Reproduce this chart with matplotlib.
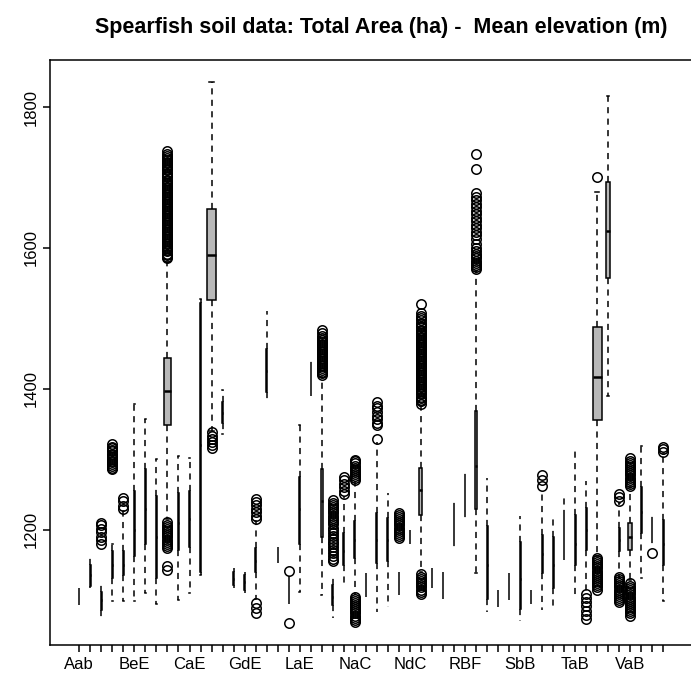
import numpy as np
import matplotlib
matplotlib.use("Agg")
import matplotlib.pyplot as plt

plt.rcParams["font.family"] = ["Liberation Sans", "DejaVu Sans"]

# Soil map units (alphabetical), one box per unit
soil_types = [
    "Aab", "Ba", "Bb", "BcB", "BcC", "BeE", "BkD", "BkE", "BoD", "BoE",
    "CaE", "CcE", "CoD", "CoE", "Cr", "GdE", "GeE", "Gf", "GgE", "Gh",
    "LaE", "LcE", "Ma", "Mb", "McC", "NaC", "NaD", "NbC", "NcC", "NcD",
    "NdC", "NdE", "Pe", "Pf", "Ra", "RBF", "RcE", "Rd", "Rf", "Rg",
    "SbB", "SbC", "Sc", "SdC", "SeE", "TaB", "TbD", "TcE", "TdE", "Ut",
    "VaB", "VcE", "Wa", "Zn",
]

# Five-number summaries of mean elevation (m) per soil unit
whisker_low = [1093, 1117, 1071, 1098, 1098, 1098, 1110, 1095, 1215, 1100,
               1110, 1136, 1340, 1336, 1117, 1110, 1102, 1382, 1152, 1095,
               1112, 1390, 1107, 1074, 1119, 1107, 1105, 1083, 1090, 1107,
               1179, 1140, 1117, 1102, 1171, 1212, 1138, 1083, 1090, 1100,
               1071, 1095, 1086, 1086, 1157, 1105, 1112, 1163, 1390, 1131,
               1128, 1131, 1176, 1098]
lower_hinge = [1102, 1120, 1086, 1131, 1136, 1162, 1179, 1131, 1348, 1171,
               1176, 1140, 1526, 1352, 1122, 1115, 1140, 1395, 1155, 1102,
               1179, 1398, 1190, 1093, 1150, 1160, 1110, 1152, 1155, 1112,
               1183, 1221, 1122, 1110, 1185, 1226, 1229, 1102, 1095, 1105,
               1088, 1098, 1138, 1117, 1160, 1150, 1171, 1355, 1557, 1169,
               1171, 1195, 1190, 1150]
median_elev = [1106, 1135, 1100, 1150, 1150, 1200, 1230, 1190, 1397, 1210,
               1215, 1320, 1590, 1365, 1130, 1125, 1155, 1425, 1163, 1112,
               1230, 1415, 1240, 1105, 1170, 1185, 1120, 1185, 1185, 1122,
               1190, 1257, 1130, 1120, 1205, 1250, 1290, 1150, 1100, 1120,
               1130, 1104, 1165, 1150, 1190, 1180, 1200, 1417, 1624, 1185,
               1190, 1225, 1200, 1180]
upper_hinge = [1110, 1150, 1112, 1169, 1169, 1255, 1286, 1248, 1444, 1252,
               1255, 1522, 1655, 1381, 1140, 1135, 1174, 1457, 1170, 1125,
               1275, 1430, 1286, 1121, 1195, 1212, 1130, 1224, 1217, 1133,
               1196, 1288, 1140, 1133, 1230, 1271, 1368, 1205, 1108, 1132,
               1183, 1110, 1193, 1190, 1219, 1221, 1231, 1487, 1694, 1202,
               1210, 1260, 1210, 1214]
whisker_high = [1117, 1163, 1121, 1179, 1226, 1379, 1357, 1300, 1580, 1305,
                1302, 1527, 1836, 1398, 1145, 1140, 1212, 1511, 1176, 1136,
                1348, 1440, 1417, 1136, 1248, 1269, 1138, 1324, 1252, 1140,
                1200, 1376, 1145, 1140, 1245, 1286, 1567, 1274, 1114, 1138,
                1219, 1114, 1257, 1221, 1250, 1312, 1269, 1679, 1815, 1238,
                1260, 1319, 1222, 1307]

# Number of raster cells per unit (box width grows with sqrt of the count)
cell_counts = [8, 40, 40, 60, 50, 400, 120, 100, 5600, 150,
               150, 3, 8900, 40, 12, 12, 80, 30, 8, 8,
               250, 8, 400, 80, 100, 120, 10, 150, 120, 30,
               8, 1100, 10, 10, 10, 10, 800, 100, 8, 10,
               80, 8, 100, 100, 30, 120, 60, 10000, 1700, 80,
               2400, 120, 8, 120]

# Values beyond the whiskers
outliers = {
    "Bb": [1179, 1185, 1190, 1196, 1201, 1206, 1210],
    "BcB": [1286, 1288, 1291, 1293, 1296, 1298, 1301, 1303, 1306, 1308,
            1311, 1313, 1316, 1318, 1321],
    "BcC": [1229, 1234, 1240, 1245],
    "BoD": [1143, 1149, 1174, 1177, 1180, 1183, 1186, 1189, 1192, 1195,
            1198, 1201, 1204, 1207, 1211,
            1585, 1587, 1590, 1592, 1595, 1597, 1600, 1602, 1605, 1607,
            1610, 1612, 1615, 1617, 1620, 1622, 1625, 1627, 1630, 1632,
            1635, 1637, 1640, 1642, 1645, 1647, 1650, 1652, 1655, 1657,
            1660, 1662, 1665, 1667, 1670, 1672, 1675, 1677, 1680, 1682,
            1685, 1687, 1690, 1692, 1695, 1697, 1700, 1702, 1705, 1707,
            1710, 1712, 1715, 1717, 1720, 1722, 1725, 1727, 1730, 1733, 1737],
    "CoD": [1316, 1320, 1324, 1329, 1333, 1338],
    "GeE": [1082, 1089, 1096, 1215, 1220, 1225, 1230, 1235, 1239, 1243],
    "Gh": [1067, 1141],
    "Ma": [1419, 1422, 1424, 1427, 1429, 1432, 1434, 1437, 1439, 1442,
           1444, 1447, 1449, 1452, 1454, 1457, 1459, 1462, 1464, 1467,
           1469, 1472, 1475, 1479, 1484],
    "Mb": [1155, 1159, 1163, 1167, 1171, 1175, 1179, 1183, 1187, 1191,
           1195, 1199, 1203, 1208, 1211, 1214, 1217, 1220, 1223, 1226,
           1229, 1232, 1235, 1238, 1242],
    "McC": [1250, 1255, 1260, 1265, 1270, 1275],
    "NaC": [1069, 1072, 1075, 1078, 1081, 1084, 1087, 1090, 1093, 1096,
            1099, 1102, 1105,
            1270, 1273, 1276, 1279, 1282, 1285, 1288, 1291, 1294, 1297, 1299],
    "NbC": [1329, 1348, 1352, 1357, 1362, 1367, 1372, 1376, 1381],
    "NcD": [1188, 1191, 1194, 1197, 1200, 1203, 1206, 1209, 1212, 1215,
            1218, 1221, 1224],
    "NdE": [1109, 1112, 1115, 1118, 1121, 1124, 1127, 1130, 1133, 1137,
            1379, 1382, 1384, 1387, 1389, 1392, 1394, 1397, 1399, 1402,
            1404, 1407, 1409, 1412, 1414, 1417, 1419, 1422, 1424, 1427,
            1429, 1432, 1434, 1437, 1439, 1442, 1444, 1447, 1449, 1452,
            1454, 1457, 1459, 1462, 1464, 1467, 1469, 1472, 1474, 1477,
            1479, 1482, 1484, 1487, 1489, 1492, 1494, 1497, 1500, 1503,
            1507, 1520],
    "RcE": [1570, 1573, 1576, 1579, 1582, 1585, 1588, 1592, 1596, 1600,
            1606, 1612, 1618, 1622, 1628, 1632, 1638, 1642, 1648, 1652,
            1658, 1663, 1668, 1672, 1678, 1712, 1733],
    "Sc": [1262, 1270, 1277],
    "TbD": [1073, 1079, 1085, 1091, 1097, 1103, 1108],
    "TcE": [1114, 1118, 1121, 1124, 1127, 1130, 1133, 1136, 1139, 1142,
            1145, 1148, 1151, 1154, 1157, 1160, 1700],
    "Ut": [1097, 1100, 1103, 1106, 1109, 1112, 1115, 1118, 1121, 1124,
           1127, 1130, 1133, 1241, 1246, 1251],
    "VaB": [1078, 1081, 1084, 1087, 1090, 1093, 1096, 1099, 1102, 1105,
            1108, 1111, 1114, 1117, 1120, 1124,
            1262, 1265, 1268, 1271, 1274, 1277, 1280, 1283, 1286, 1289,
            1292, 1295, 1298, 1302],
    "Wa": [1167],
    "Zn": [1310, 1314, 1318],
}

y_ticks = [1200, 1400, 1600, 1800]
label_every = 5

n_units = len(soil_types)
positions = np.arange(1, n_units + 1)
counts = np.asarray(cell_counts, dtype=float)
widths = 0.8 * np.sqrt(counts / counts.max())

stats = []
for i, name in enumerate(soil_types):
    stats.append(dict(
        label=name,
        whislo=whisker_low[i], q1=lower_hinge[i], med=median_elev[i],
        q3=upper_hinge[i], whishi=whisker_high[i],
        fliers=np.asarray(outliers.get(name, []), dtype=float),
    ))

fig = plt.figure(figsize=(6.91, 6.88), dpi=100)
W, H = 691.0, 688.0
ax = fig.add_axes([50 / W, (H - 645) / H, (692.7 - 50) / W, 585 / H])

lw = 1.1
ax.bxp(
    stats, positions=positions, widths=widths, capwidths=0.5 * widths,
    patch_artist=True, manage_ticks=False,
    boxprops=dict(facecolor="#b8b8b8", edgecolor="black", linewidth=lw),
    whiskerprops=dict(color="black", linewidth=lw, linestyle=(0, (4, 3.5))),
    capprops=dict(color="black", linewidth=lw),
    medianprops=dict(color="black", linewidth=1.8, solid_capstyle="butt"),
    flierprops=dict(marker="o", markerfacecolor="none", markeredgecolor="black",
                    markersize=6.8, markeredgewidth=1.1, linestyle="none"),
)

# Axis ranges padded by 4% as in the classic boxplot layout
all_vals = list(whisker_low) + list(whisker_high)
for v in outliers.values():
    all_vals += v
lo, hi = min(all_vals), max(all_vals)
pad = 0.04 * (hi - lo)
ax.set_ylim(lo - pad, hi + pad)
ax.set_xlim(0.5 - 0.04 * n_units, n_units + 0.5 + 0.04 * n_units)

ax.set_xticks(positions)
ax.set_xticklabels([s if i % label_every == 0 else "" for i, s in enumerate(soil_types)],
                   fontsize=12)
ax.set_yticks(y_ticks)
ax.set_yticklabels([str(t) for t in y_ticks], rotation=90, va="center", fontsize=12)
ax.tick_params(axis="both", direction="out", length=5, width=lw, color="black")
ax.tick_params(axis="x", pad=3.5)
ax.tick_params(axis="y", pad=3)
for sp in ax.spines.values():
    sp.set_linewidth(lw)
    sp.set_color("black")

fig.text(381 / W, 1 - 28 / H,
         "Spearfish soil data: Total Area (ha) -  Mean elevation (m)",
         fontsize=15.5, fontweight="bold", ha="center", va="center")

fig.savefig("out.png", dpi=100)
